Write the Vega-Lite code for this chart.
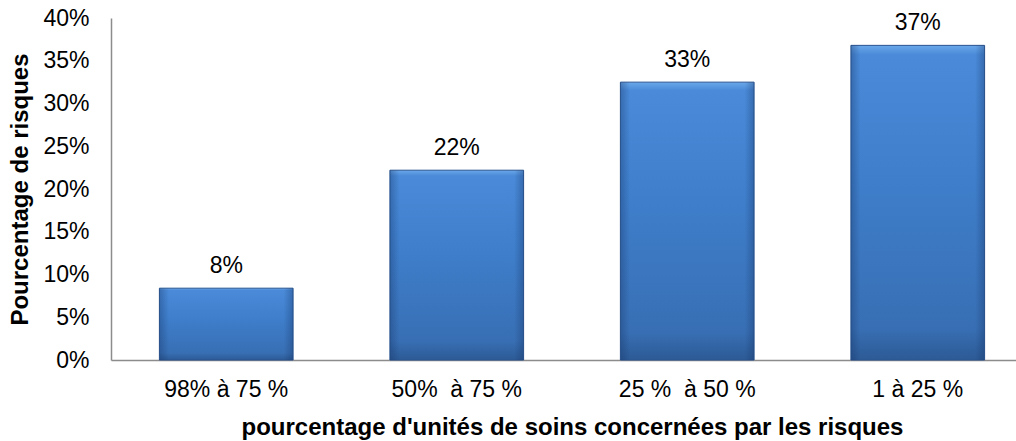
{
  "$schema": "https://vega.github.io/schema/vega-lite/v6.json",
  "autosize": {"type": "none"},
  "padding": {"left": 111, "top": 18, "right": 0, "bottom": 81},
  "width": 905,
  "height": 342,
  "background": "white",
  "config": {"view": {"stroke": null}, "font": "Liberation Sans"},
  "data": {"values": [
    {"cat": "98% à 75 %", "value": 0.084, "label": "8%"},
    {"cat": "50%\u00a0 à 75 %", "value": 0.222, "label": "22%"},
    {"cat": "25 %\u00a0 à 50 %", "value": 0.325, "label": "33%"},
    {"cat": "1 à 25 %", "value": 0.368, "label": "37%"}
  ]},
  "encoding": {
    "x": {"field": "cat", "type": "nominal", "sort": null,
      "scale": {"range": [0, 922], "paddingInner": 0.42, "paddingOuter": 0.21},
      "axis": {"title": "pourcentage d'unités de soins concernées par les risques", "labelAngle": 0, "labelFontSize": 23, "labelColor": "#000", "labelPadding": 18, "ticks": false, "domainColor": "#8c8c8c", "domainWidth": 1.5, "titleFontSize": 24, "titleFontWeight": "bold", "titleColor": "#000", "titlePadding": 14, "titleX": 461, "titleAnchor": "middle"}},
    "y": {"field": "value", "type": "quantitative",
      "scale": {"domain": [0, 0.4], "nice": false},
      "axis": {"title": "Pourcentage de risques", "values": [0, 0.05, 0.1, 0.15, 0.2, 0.25, 0.3, 0.35, 0.4], "format": ".0%", "grid": false, "ticks": false, "labelFontSize": 23, "labelColor": "#000", "labelPadding": 22, "domainColor": "#8c8c8c", "domainWidth": 1.5, "titleFontSize": 24, "titleFontWeight": "bold", "titleColor": "#000", "titlePadding": 10}}
  },
  "layer": [
    {"mark": {"type": "bar", "stroke": "#2a5490", "strokeWidth": 1,
      "color": {"gradient": "linear", "x1": 0, "y1": 0, "x2": 0, "y2": 1,
        "stops": [
          {"offset": 0, "color": "#6aa8ea"},
          {"offset": 0.03, "color": "#4a8ad8"},
          {"offset": 0.4, "color": "#3f7fcc"},
          {"offset": 0.9, "color": "#386fb4"},
          {"offset": 1, "color": "#2c5a95"}
        ]}}},
    {"mark": {"type": "bar",
      "color": {"gradient": "linear", "x1": 0, "y1": 0, "x2": 1, "y2": 0,
        "stops": [
          {"offset": 0, "color": "rgba(20,50,100,0.35)"},
          {"offset": 0.07, "color": "rgba(20,50,100,0)"},
          {"offset": 0.93, "color": "rgba(20,50,100,0)"},
          {"offset": 1, "color": "rgba(20,50,100,0.35)"}
        ]}}},
    {"mark": {"type": "text", "baseline": "alphabetic", "align": "center", "dy": -15, "fontSize": 23, "color": "#000"},
      "encoding": {"text": {"field": "label"}}}
  ]
}
